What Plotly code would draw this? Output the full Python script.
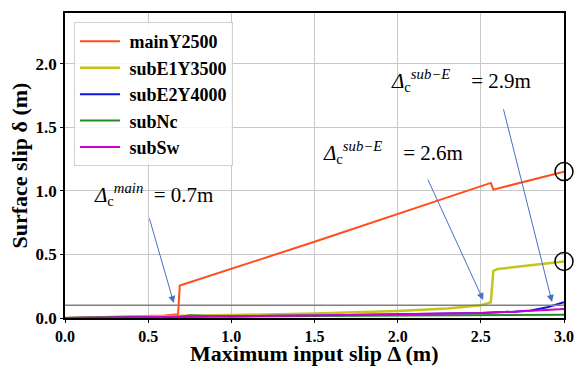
import plotly.graph_objects as go

# series
main_x = [0.0, 0.3, 0.6, 0.68, 0.69, 1.5, 2.0, 2.56, 2.575, 3.0]
main_y = [0.0, 0.01, 0.02, 0.03, 0.255, 0.6, 0.82, 1.063, 1.01, 1.152]

e1_x = [0.0, 0.5, 1.0, 1.5, 2.0, 2.3, 2.5, 2.56, 2.575, 2.6, 2.8, 3.0]
e1_y = [0.0, 0.01, 0.02, 0.035, 0.055, 0.075, 0.1, 0.123, 0.37, 0.385, 0.415, 0.445]

e2_x = [0.0, 0.5, 1.0, 1.5, 2.0, 2.5, 2.7, 2.8, 2.9, 3.0]
e2_y = [0.0, 0.005, 0.01, 0.02, 0.03, 0.04, 0.05, 0.06, 0.085, 0.125]

nc_x = [0.0, 0.5, 0.7, 0.75, 0.8, 0.9, 1.0, 1.5, 2.0, 2.5, 3.0]
nc_y = [0.0, 0.005, 0.01, 0.022, 0.02, 0.01, 0.01, 0.015, 0.02, 0.02, 0.025]

sw_x = [0.0, 0.5, 1.0, 1.5, 2.0, 2.5, 2.7, 2.8, 2.9, 3.0]
sw_y = [0.0, 0.005, 0.01, 0.02, 0.03, 0.04, 0.05, 0.055, 0.06, 0.07]

circle_x = [3.0, 3.0]
circle_y = [1.152, 0.445]

threshold = 0.1

SERIF = "Liberation Serif"
PAD = "\u00a0"  # a little gap between legend line and label

fig = go.Figure()
fig.add_trace(go.Scatter(x=main_x, y=main_y, mode="lines", name=PAD + "mainY2500",
                         line=dict(color="#FF4E1A", width=2)))
fig.add_trace(go.Scatter(x=e1_x, y=e1_y, mode="lines", name=PAD + "subE1Y3500",
                         line=dict(color="#C4C41C", width=2.5)))
fig.add_trace(go.Scatter(x=e2_x, y=e2_y, mode="lines", name=PAD + "subE2Y4000",
                         line=dict(color="#1010E0", width=2)))
fig.add_trace(go.Scatter(x=nc_x, y=nc_y, mode="lines", name=PAD + "subNc",
                         line=dict(color="#228B22", width=2)))
fig.add_trace(go.Scatter(x=sw_x, y=sw_y, mode="lines", name=PAD + "subSw",
                         line=dict(color="#CC00CC", width=2)))
fig.add_trace(go.Scatter(x=circle_x, y=circle_y, mode="markers", showlegend=False,
                         marker=dict(symbol="circle-open", size=18, color="black",
                                     line=dict(color="black", width=1.5)),
                         cliponaxis=False))

fig.add_shape(type="line", xref="paper", x0=0, x1=1, y0=threshold, y1=threshold,
              line=dict(color="#808080", width=1.5))

txt_font = dict(family=SERIF, size=21, color="black")
fig.add_annotation(x=0.16, y=0.97, text="<i>Δ</i><sub>c</sub><sup><i>main</i></sup>  = 0.7m",
                   showarrow=False, xanchor="left", font=txt_font)
fig.add_annotation(x=1.54, y=1.3, text="<i>Δ</i><sub>c</sub><sup><i>sub−E</i></sup>    = 2.6m",
                   showarrow=False, xanchor="left", font=txt_font)
fig.add_annotation(x=1.95, y=1.87, text="<i>Δ</i><sub>c</sub><sup><i>sub−E</i></sup>    = 2.9m",
                   showarrow=False, xanchor="left", font=txt_font)

arrows = [((0.505, 0.795), (0.654, 0.118)),
          ((2.178, 1.10), (2.514, 0.142)),
          ((2.634, 1.654), (2.928, 0.126))]
for (tx, ty), (hx, hy) in arrows:
    fig.add_annotation(x=hx, y=hy, ax=tx, ay=ty, xref="x", yref="y", axref="x", ayref="y",
                       text="", showarrow=True, arrowhead=2, arrowsize=1.4,
                       arrowwidth=1, arrowcolor="#4472C4")

# axis titles as annotations so they sit where the reference has them
fig.add_annotation(xref="paper", yref="paper", x=0.5, y=-0.118, yanchor="middle",
                   text="<b>Maximum input slip Δ (m)</b>", showarrow=False,
                   font=dict(family=SERIF, size=22, color="black"))
fig.add_annotation(xref="paper", yref="paper", x=-0.092, y=0.5, xanchor="center",
                   textangle=-90, text="<b>Surface slip δ (m)</b>", showarrow=False,
                   font=dict(family=SERIF, size=22, color="black"))

fig.update_layout(
    width=576, height=369,
    margin=dict(l=65, r=12, t=13, b=51),
    plot_bgcolor="white", paper_bgcolor="white",
    font=dict(family=SERIF, color="black"),
    showlegend=True,
    legend=dict(x=0.018, y=0.97, xanchor="left", yanchor="top",
                bgcolor="rgba(255,255,255,0.85)", bordercolor="#D0D0D0", borderwidth=1,
                font=dict(family=SERIF, size=18, color="black", weight="bold"),
                tracegroupgap=0, itemwidth=40),
)
fig.update_xaxes(range=[0, 3.0], tickvals=[0, 0.5, 1.0, 1.5, 2.0, 2.5, 3.0],
                 ticktext=["0.0", "0.5", "1.0", "1.5", "2.0", "2.5", "3.0"],
                 showgrid=True, gridcolor="#C8C8C8", gridwidth=1, automargin=False,
                 showline=True, linecolor="black", linewidth=1.5, mirror=True,
                 ticks="outside", ticklen=3, tickcolor="black", zeroline=False,
                 tickfont=dict(family=SERIF, size=16, weight="bold"))
fig.update_yaxes(range=[0, 2.4], tickvals=[0, 0.5, 1.0, 1.5, 2.0],
                 ticktext=["0.0", "0.5", "1.0", "1.5", "2.0"],
                 showgrid=True, gridcolor="#C8C8C8", gridwidth=1, automargin=False,
                 showline=True, linecolor="black", linewidth=1.5, mirror=True,
                 ticks="outside", ticklen=3, tickcolor="black", zeroline=False,
                 tickfont=dict(family=SERIF, size=17, weight="bold"))

fig.write_html("out.html", config={"displayModeBar": False},
               post_script="document.body.style.margin='0';")
